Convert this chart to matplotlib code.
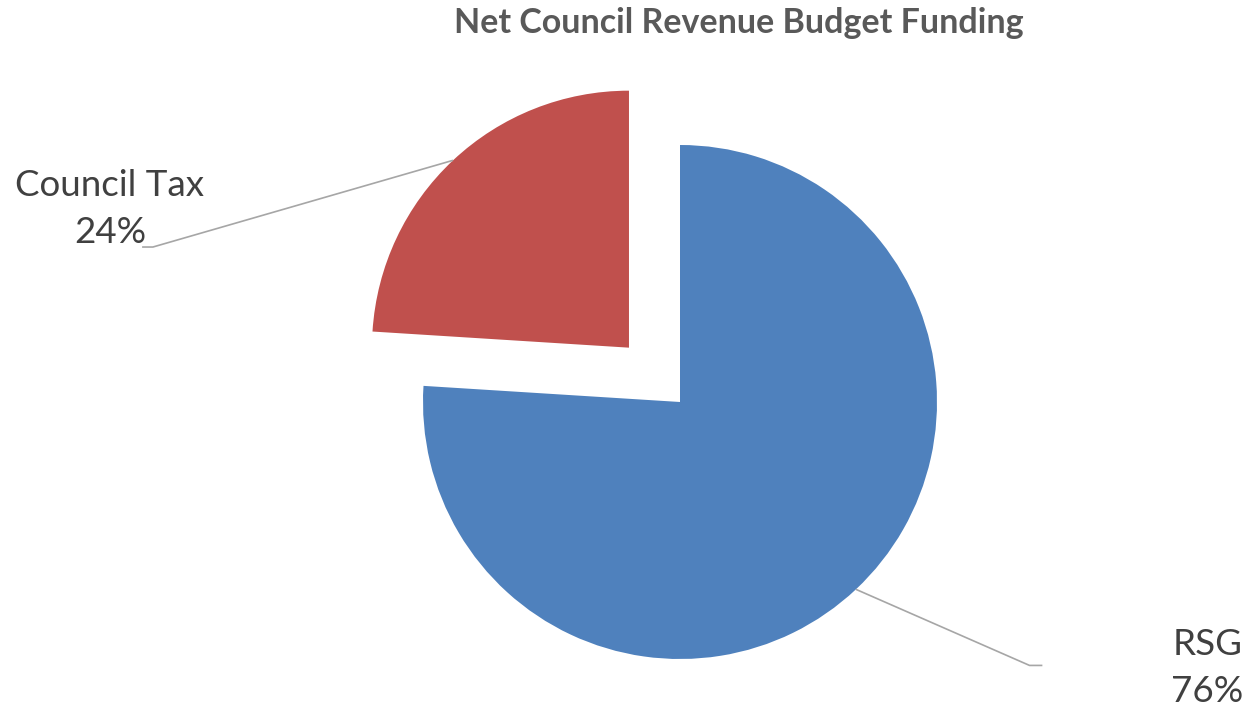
import numpy as np
import matplotlib.pyplot as plt

labels = ['Council Tax', 'RSG']
shares = [24, 76]
colors = ['#C0504D', '#4F81BD']
explode = [0.29, 0]

plt.rcParams['font.family'] = ['Lato', 'DejaVu Sans']

W, H = 1249, 710
fig = plt.figure(figsize=(W / 100, H / 100), dpi=100)
ax = fig.add_axes([0, 0, 1, 1])

wedges, _ = ax.pie(shares, colors=colors, explode=explode, startangle=90,
                   counterclock=True, radius=1,
                   wedgeprops=dict(linewidth=0))

# pie centre and radius in pixels
cx, cy, rpx = 680, 402, 257
ax.set_xlim(-cx / rpx, (W - cx) / rpx)
ax.set_ylim(-(H - cy) / rpx, cy / rpx)
ax.axis('off')

line_col = '#A6A6A6'
text_col = '#404040'

# leader line paths (after the edge point) and label anchors, in radius units
leader = {
    'Council Tax': [(-2.051, 0.603), (-2.093, 0.603)],
    'RSG': [(1.36, -1.025), (1.41, -1.025)],
}
label_pos = {
    'Council Tax': (-2.218, 0.75, 'center'),
    'RSG': (2.19, -1.035, 'right'),
}

for w, lab, val in zip(wedges, labels, shares):
    mid = np.deg2rad((w.theta1 + w.theta2) / 2)
    ex = w.center[0] + w.r * np.cos(mid)
    ey = w.center[1] + w.r * np.sin(mid)
    pts = [(ex, ey)] + leader[lab]
    xs, ys = zip(*pts)
    ax.plot(xs, ys, color=line_col, lw=1.2, solid_capstyle='butt')
    lx, ly, ha = label_pos[lab]
    ax.text(lx, ly, f'{lab}\n{val}%', ha=ha, va='center', fontsize=26.5,
            color=text_col, linespacing=1.5,
            multialignment='center' if ha == 'center' else 'right')

fig.text(739 / W, 1 - 23 / H, 'Net Council Revenue Budget Funding',
         ha='center', va='center', fontsize=24.5, fontweight='bold', color='#595959')

fig.savefig('out.png', dpi=100)
